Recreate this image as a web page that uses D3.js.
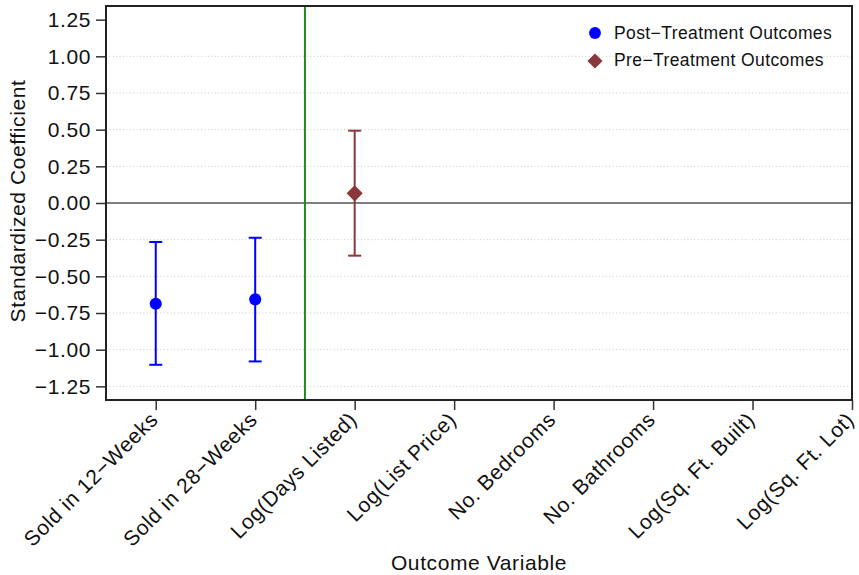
<!DOCTYPE html>
<html>
<head>
<meta charset="utf-8">
<script src="https://cdn.jsdelivr.net/npm/d3@7"></script>
<style>
  body { margin: 0; background: #fff; }
  svg { font-family: "Liberation Sans", Arial, sans-serif; }
</style>
</head>
<body>
<div id="chart"></div>
<script>
// données
const categories = [
  "Sold in 12\u2212Weeks", "Sold in 28\u2212Weeks", "Log(Days Listed)", "Log(List Price)",
  "No. Bedrooms", "No. Bathrooms", "Log(Sq. Ft. Built)", "Log(Sq. Ft. Lot)"
];
const postIdx = [1, 2];
const postCoef = [-0.687, -0.657];
const postLow = [-1.103, -1.080];
const postHigh = [-0.266, -0.237];

const preIdx = [3];
const preCoef = [0.066];
const preLow = [-0.359];
const preHigh = [0.493];

const yTicks = [-1.25, -1.0, -0.75, -0.5, -0.25, 0, 0.25, 0.5, 0.75, 1.0, 1.25];
const treatmentLine = 2.5;

// dimensions
const W = 859, H = 575;
const margin = { top: 6, right: 7, bottom: 175, left: 106 };
const width = W - margin.left - margin.right;
const height = H - margin.top - margin.bottom;

const svg = d3.select("#chart").append("svg")
  .attr("width", W).attr("height", H);
const g = svg.append("g")
  .attr("transform", `translate(${margin.left},${margin.top})`);

const x = d3.scaleLinear().domain([0.5, 8]).range([0, width]);
const y = d3.scaleLinear().domain([-1.343, 1.343]).range([height, 0]);

// grille
g.selectAll(".grid").data(yTicks.filter(t => t !== 0 && t !== 1.25)).enter()
  .append("line")
  .attr("x1", 0).attr("x2", width)
  .attr("y1", d => y(d)).attr("y2", d => y(d))
  .attr("stroke", "#c8c8c8").attr("stroke-width", 1)
  .attr("stroke-dasharray", "1,2.4");

// ligne zéro + ligne verticale
g.append("line")
  .attr("x1", 0).attr("x2", width)
  .attr("y1", y(0)).attr("y2", y(0))
  .attr("stroke", "#555").attr("stroke-width", 1.5);
g.append("line")
  .attr("x1", x(treatmentLine)).attr("x2", x(treatmentLine))
  .attr("y1", 0).attr("y2", height)
  .attr("stroke", "#1a8c1a").attr("stroke-width", 2);

// axes
const yAxis = g.append("g")
  .call(d3.axisLeft(y).tickValues(yTicks).tickSize(10).tickPadding(5)
    .tickFormat(d => d3.format(".2f")(d).replace("-", "\u2212")));
const xAxis = g.append("g")
  .attr("transform", `translate(0,${height})`)
  .call(d3.axisBottom(x).tickValues(d3.range(1, 9)).tickSize(10)
    .tickFormat(d => categories[d - 1]));

[yAxis, xAxis].forEach(a => {
  a.select(".domain").remove();
  a.selectAll(".tick line").attr("stroke", "#333").attr("stroke-width", 1.5);
  a.selectAll("text").attr("fill", "#111")
    .style("font-size", "21px").style("letter-spacing", "0.6px");
});
xAxis.selectAll("text")
  .attr("text-anchor", "end")
  .attr("y", 0)
  .attr("dy", null)
  .attr("transform", "translate(3,21) rotate(-45)");

// cadre
g.append("rect")
  .attr("width", width).attr("height", height)
  .attr("fill", "none").attr("stroke", "#222").attr("stroke-width", 2);

// barres d'erreur + marqueurs
function drawSeries(idx, coef, low, high, color, diamond) {
  const cap = 6.5;
  idx.forEach((c, i) => {
    g.append("line")
      .attr("x1", x(c)).attr("x2", x(c))
      .attr("y1", y(low[i])).attr("y2", y(high[i]))
      .attr("stroke", color).attr("stroke-width", 2);
    [low[i], high[i]].forEach(v => {
      g.append("line")
        .attr("x1", x(c) - cap).attr("x2", x(c) + cap)
        .attr("y1", y(v)).attr("y2", y(v))
        .attr("stroke", color).attr("stroke-width", 2);
    });
  });
  const sym = diamond ? d3.symbol().type(d3.symbolSquare).size(130)
                      : d3.symbol().type(d3.symbolCircle).size(115);
  g.selectAll(null).data(idx).enter().append("path")
    .attr("d", sym())
    .attr("transform", (d, i) => `translate(${x(d)},${y(coef[i])})${diamond ? " rotate(45)" : ""}`)
    .attr("fill", color);
}
drawSeries(postIdx, postCoef, postLow, postHigh, "#0000ff", false);
drawSeries(preIdx, preCoef, preLow, preHigh, "#8b383c", true);

// légende
const legend = svg.append("g").attr("transform", "translate(595,33)");
legend.append("path").attr("d", d3.symbol().type(d3.symbolCircle).size(110)()).attr("fill", "#0000ff");
legend.append("path").attr("d", d3.symbol().type(d3.symbolSquare).size(115)())
  .attr("transform", "translate(0,28) rotate(45)").attr("fill", "#8b383c");
legend.selectAll("text").data(["Post\u2212Treatment Outcomes", "Pre\u2212Treatment Outcomes"])
  .enter().append("text")
  .attr("x", 19).attr("y", (d, i) => 6 + i * 27)
  .style("font-size", "17.5px").style("letter-spacing", "0.4px").attr("fill", "#111")
  .text(d => d);

// titres
svg.append("text")
  .attr("x", margin.left + width / 2).attr("y", 570)
  .attr("text-anchor", "middle").style("font-size", "21px").style("letter-spacing", "0.6px")
  .attr("fill", "#111")
  .text("Outcome Variable");
svg.append("text")
  .attr("transform", "translate(25,201) rotate(-90)")
  .attr("text-anchor", "middle").style("font-size", "21px").style("letter-spacing", "0.6px")
  .attr("fill", "#111")
  .text("Standardized Coefficient");
</script>
</body>
</html>
